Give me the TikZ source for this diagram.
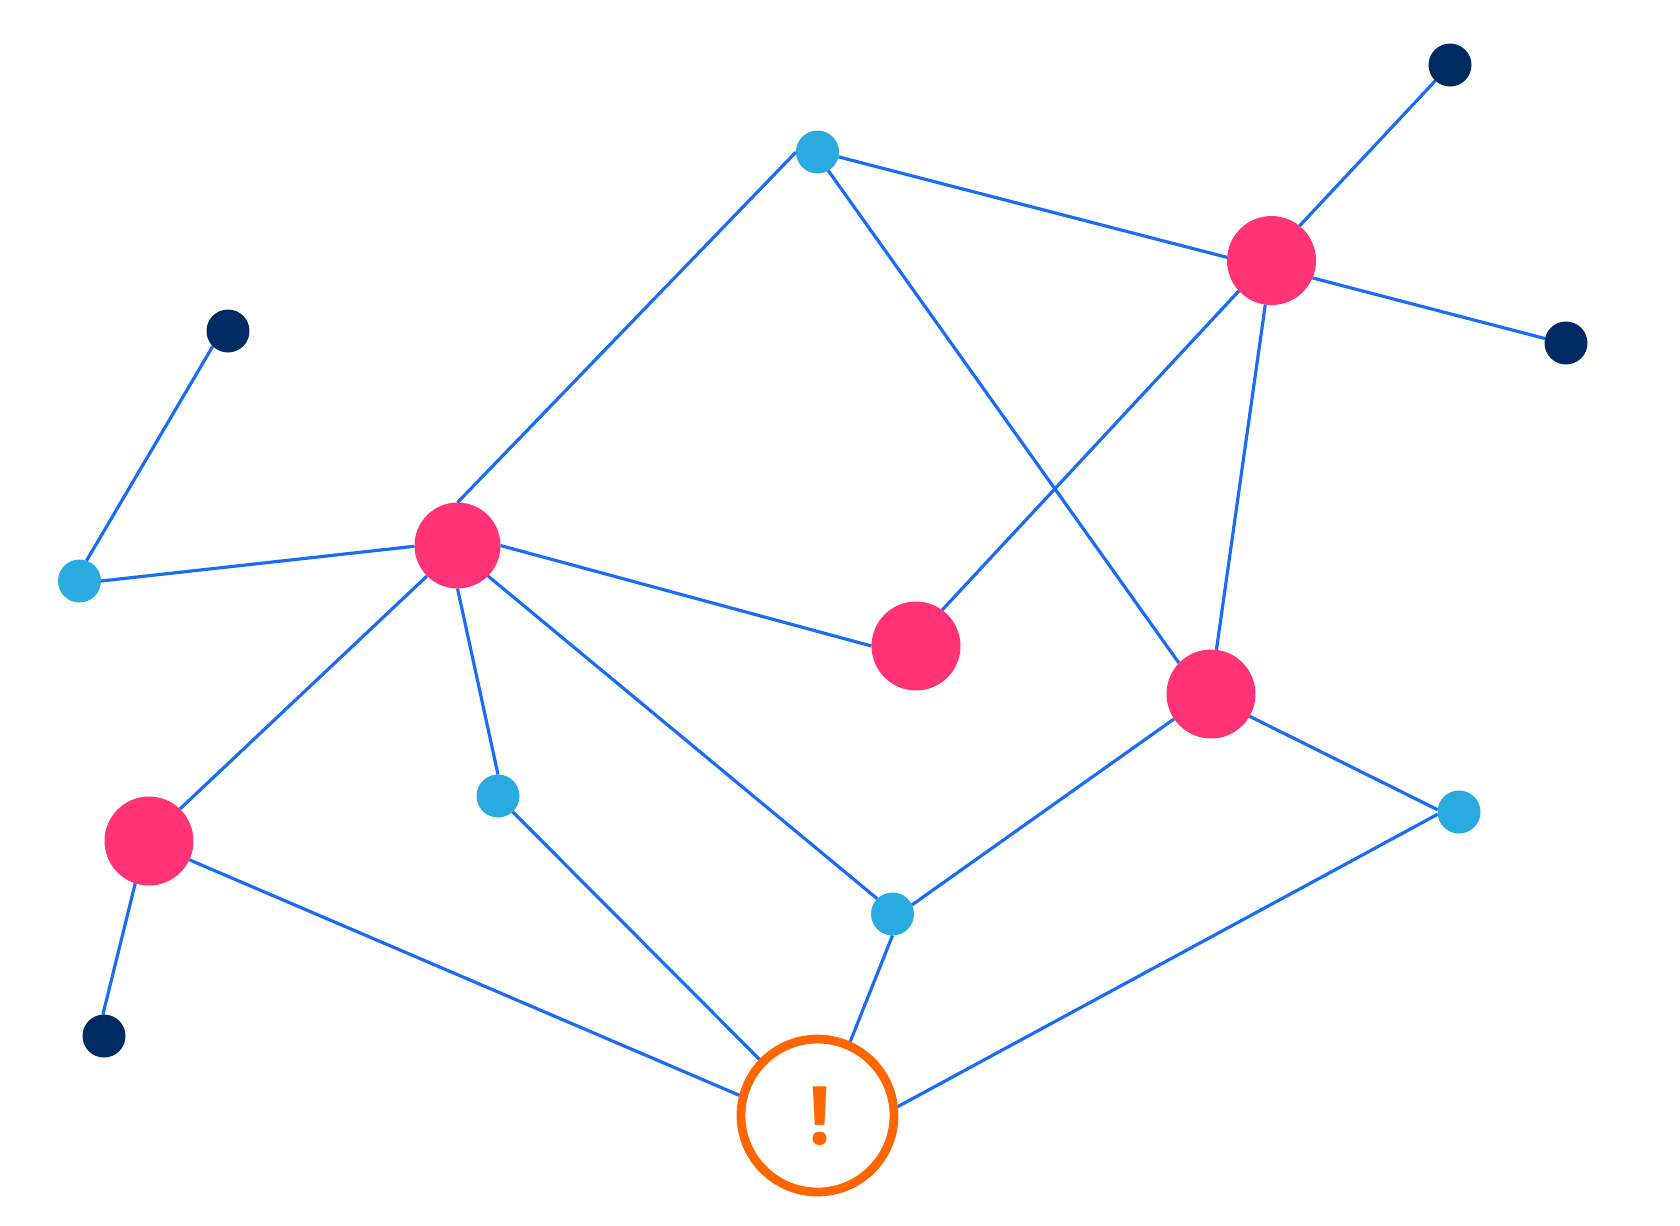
\documentclass[tikz,border=0pt]{standalone}
\usepackage{fontspec}
\newfontfamily\markfont{Open Sans}
\usetikzlibrary{backgrounds}
\definecolor{hubpink}{HTML}{FF3375}
\definecolor{relayblue}{HTML}{29ABE2}
\definecolor{leafnavy}{HTML}{002B62}
\definecolor{alertorange}{HTML}{FF6600}
\definecolor{linkblue}{HTML}{1A6CF5}
\tikzset{
  hub/.style={circle, fill=hubpink, inner sep=0pt, outer sep=0pt, minimum size=1.78cm},
  hubsmall/.style={hub, minimum size=1.72cm},
  relay/.style={circle, fill=relayblue, inner sep=0pt, outer sep=0pt, minimum size=0.86cm},
  leaf/.style={circle, fill=leafnavy, inner sep=0pt, outer sep=0pt, minimum size=0.86cm},
  alert/.style={circle, draw=alertorange, line width=5pt, fill=white, inner sep=0pt, outer sep=0pt, minimum size=3.06cm},
  link/.style={linkblue, line width=1.8pt}
}
\begin{document}
\begin{tikzpicture}[x=0.02cm, y=-0.02cm]
  \useasboundingbox (0,0) rectangle (1680,1225);

  % --- Large nodes
  \node[hub] (hubNE) at (1271.5,260.5) {};
  \node[hubsmall] (hubW) at (457.5,545.5) {};
  \node[hub] (hubC) at (916,646) {};
  \node[hub] (hubE) at (1211,694) {};
  \node[hub] (hubSW) at (149,841) {};

  % --- Small nodes
  \node[relay] (relayN) at (817.5,152) {};
  \node[relay] (relayW) at (79.5,581) {};
  \node[relay] (relayS) at (498,796) {};
  \node[relay] (relayM) at (892.5,914) {};
  \node[relay] (relayE) at (1459,812) {};
  \node[leaf] (leafNE) at (1450,65) {};
  \node[leaf] (leafE) at (1566,343) {};
  \node[leaf] (leafNW) at (228,331) {};
  \node[leaf] (leafSW) at (104,1036) {};

  % --- Alert node
  \node[alert] (warn) at (817.5,1115.5) {};
  \node[text=alertorange, font=\markfont\fontsize{46pt}{46pt}\selectfont\bfseries] (mark) at (820,1116) {!};

  % --- Connectors
  \begin{scope}[on background layer]
    \draw[link] (hubW.north) -- (relayN.west);
    \draw[link] (relayN.-13) -- (hubNE.176);
    \draw[link] (relayN.-60) -- (hubE.136);
    \draw[link] (leafNE.227) -- (hubNE.51);
    \draw[link] (hubNE.-23) -- (leafE.168);
    \draw[link] (hubNE.223) -- (hubC.54);
    \draw[link] (hubNE.262) -- (hubE.83);
    \draw[link] (leafNW.225) -- (relayW.71);
    \draw[link] (relayW.east) -- (hubW.181);
    \draw[link] (hubW.east) -- (hubC.west);
    \draw[link] (hubW.225) -- (hubSW.46);
    \draw[link] (hubW.south) -- (relayS.north);
    \draw[link] (hubW.-45) -- (relayM.135);
    \draw[link] (relayS.-47) -- (warn.136);
    \draw[link] (hubSW.-25) -- (warn.166);
    \draw[link] (hubSW.252) -- (leafSW.93);
    \draw[link] (relayM.south) -- (warn.66);
    \draw[link] (relayM.25) -- (hubE.214);
    \draw[link] (hubE.-30) -- (relayE.174);
    \draw[link] (relayE.186) -- (warn.5);
  \end{scope}
\end{tikzpicture}
\end{document}
